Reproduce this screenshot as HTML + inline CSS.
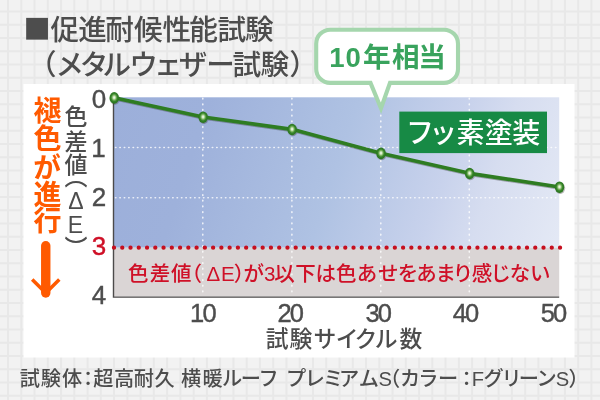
<!DOCTYPE html>
<html lang="ja">
<head>
<meta charset="utf-8">
<title>促進耐候性能試験（メタルウェザー試験）</title>
<style>
html,body{margin:0;padding:0;background:#f2f2f2;}
body{width:600px;height:400px;overflow:hidden;position:relative;}
svg{position:absolute;left:0;top:0;display:block;will-change:transform;}
text{font-family:"Liberation Sans", "Noto Sans CJK JP", sans-serif;}
</style>
</head>
<body>
<svg width="600" height="400" viewBox="0 0 600 400">
<defs>
<linearGradient id="blue" gradientUnits="userSpaceOnUse" x1="112" y1="97" x2="559" y2="247">
<stop offset="0" stop-color="#9cafda"/>
<stop offset="0.2" stop-color="#9eb1db"/>
<stop offset="0.5" stop-color="#afc2e3"/>
<stop offset="0.72" stop-color="#c8d2ec"/>
<stop offset="0.82" stop-color="#d6ddf0"/>
<stop offset="1" stop-color="#e4e9f5"/>
</linearGradient>
<radialGradient id="mk" cx="0.5" cy="0.47" r="0.5">
<stop offset="0" stop-color="#f6fbf2"/>
<stop offset="0.2" stop-color="#d4e9c6"/>
<stop offset="0.45" stop-color="#76b25a"/>
<stop offset="0.68" stop-color="#35832a"/>
<stop offset="1" stop-color="#2a741e"/>
</radialGradient>
<filter id="sh" x="-0.05" y="-0.2" width="1.1" height="1.4">
<feDropShadow dx="0.7" dy="1" stdDeviation="0.7" flood-color="#333333" flood-opacity="0.4"/>
</filter>
</defs>

<rect x="0" y="0" width="600" height="400" fill="#f2f2f2"/>
<path d="M8.00 0V400M21.26 0V400M34.52 0V400M47.78 0V400M61.04 0V400M74.30 0V400M87.56 0V400M100.82 0V400M114.08 0V400M127.34 0V400M140.60 0V400M153.86 0V400M167.12 0V400M180.38 0V400M193.64 0V400M206.90 0V400M220.16 0V400M233.42 0V400M246.68 0V400M259.94 0V400M273.20 0V400M286.46 0V400M299.72 0V400M312.98 0V400M326.24 0V400M339.50 0V400M352.76 0V400M366.02 0V400M379.28 0V400M392.54 0V400M405.80 0V400M419.06 0V400M432.32 0V400M445.58 0V400M458.84 0V400M472.10 0V400M485.36 0V400M498.62 0V400M511.88 0V400M525.14 0V400M538.40 0V400M551.66 0V400M564.92 0V400M578.18 0V400M591.44 0V400M0 -1.65H600M0 11.60H600M0 24.85H600M0 38.10H600M0 51.35H600M0 64.60H600M0 77.85H600M0 91.10H600M0 104.35H600M0 117.60H600M0 130.85H600M0 144.10H600M0 157.35H600M0 170.60H600M0 183.85H600M0 197.10H600M0 210.35H600M0 223.60H600M0 236.85H600M0 250.10H600M0 263.35H600M0 276.60H600M0 289.85H600M0 303.10H600M0 316.35H600M0 329.60H600M0 342.85H600M0 356.10H600M0 369.35H600M0 382.60H600M0 395.85H600" stroke="#e8e8e8" stroke-width="2" fill="none"/>
<rect x="23.5" y="84" width="551" height="273.5" fill="#ffffff"/>
<rect x="113.5" y="97.3" width="445.70000000000005" height="150.39999999999998" fill="url(#blue)"/>
<rect x="113.5" y="247.7" width="445.70000000000005" height="48.80000000000001" fill="#dad5d5"/>
<line x1="202.8" y1="98.3" x2="202.8" y2="295.5" stroke="#ffffff" stroke-opacity="0.8" stroke-width="1.6" stroke-linecap="round" stroke-dasharray="0.7 4.97"/>
<line x1="291.9" y1="98.3" x2="291.9" y2="295.5" stroke="#ffffff" stroke-opacity="0.8" stroke-width="1.6" stroke-linecap="round" stroke-dasharray="0.7 4.97"/>
<line x1="380.8" y1="98.3" x2="380.8" y2="295.5" stroke="#ffffff" stroke-opacity="0.8" stroke-width="1.6" stroke-linecap="round" stroke-dasharray="0.7 4.97"/>
<line x1="469.3" y1="98.3" x2="469.3" y2="295.5" stroke="#ffffff" stroke-opacity="0.8" stroke-width="1.6" stroke-linecap="round" stroke-dasharray="0.7 4.97"/>
<line x1="115.5" y1="147.5" x2="559.2" y2="147.5" stroke="#ffffff" stroke-opacity="0.8" stroke-width="1.6" stroke-linecap="round" stroke-dasharray="0.4 4"/>
<line x1="115.5" y1="197.8" x2="559.2" y2="197.8" stroke="#ffffff" stroke-opacity="0.8" stroke-width="1.6" stroke-linecap="round" stroke-dasharray="0.4 4"/>
<path d="M113.5 97.3V297.1H559.2" stroke="#4c4a4a" stroke-width="1.4" fill="none"/>
<line x1="114" y1="247.7" x2="561" y2="247.7" stroke="#c60f1f" stroke-width="4.3" stroke-linecap="round" stroke-dasharray="0 8.26"/>
<g filter="url(#sh)">
<polyline points="114.2,97.7 203.1,117.0 292.1,129.3 381.0,153.2 469.6,173.3 559.5,187.0" fill="none" stroke="#2e7c21" stroke-width="3.7" stroke-linejoin="round" stroke-linecap="round"/>
<ellipse cx="114.2" cy="97.9" rx="4.7" ry="5.8" fill="url(#mk)"/>
<ellipse cx="203.1" cy="117.2" rx="4.7" ry="5.8" fill="url(#mk)"/>
<ellipse cx="292.1" cy="129.5" rx="4.7" ry="5.8" fill="url(#mk)"/>
<ellipse cx="381.0" cy="153.39999999999998" rx="4.7" ry="5.8" fill="url(#mk)"/>
<ellipse cx="469.6" cy="173.5" rx="4.7" ry="5.8" fill="url(#mk)"/>
<ellipse cx="559.5" cy="187.2" rx="4.7" ry="5.8" fill="url(#mk)"/>
</g>
<rect x="399.3" y="111.6" width="147.7" height="41.5" fill="#178a45"/>
<text x="420 443.25 470.4 498.75 526.25" y="143.3" font-size="28" fill="#ffffff" font-weight="500" text-anchor="middle">フッ素塗装</text>
<path d="M330.2 29.7H444A14 14 0 0 1 458 43.7V68.9A14 14 0 0 1 444 82.9H390L381 108.2L370.5 82.9H330.2A14 14 0 0 1 316.2 68.9V43.7A14 14 0 0 1 330.2 29.7Z" fill="#ffffff" stroke="#a5d6ad" stroke-width="4.1" stroke-linejoin="miter" stroke-miterlimit="10"/>
<text x="337 353.3 376.7 405.9 432.1" y="66.5" font-size="27.6" fill="#39a35d" font-weight="700" text-anchor="middle">10年相当</text>
<text x="36.9" y="42.4" font-size="45" fill="#4d4d4d" font-weight="400" text-anchor="middle">■</text>
<text x="64.7 92.6 119.5 148.3 176.8 203.5 231.9 259.4" y="40.4" font-size="28.6" fill="#4d4d4d" font-weight="500" text-anchor="middle">促進耐候性能試験</text>
<text x="42.3 69.7 94.1 116.8 143.5 168.4 193 220.6 246.9 274.7 303.6" y="74.5" font-size="28.6" fill="#4d4d4d" font-weight="500" text-anchor="middle">（メタルウェザー試験）</text>
<text x="99" y="107.7" font-size="26" fill="#4d4d4d" font-weight="400" text-anchor="middle" stroke="#4d4d4d" stroke-width="0.4">0</text>
<text x="98.5" y="157" font-size="26" fill="#4d4d4d" font-weight="400" text-anchor="middle" stroke="#4d4d4d" stroke-width="0.4">1</text>
<text x="99" y="205.6" font-size="26" fill="#4d4d4d" font-weight="400" text-anchor="middle" stroke="#4d4d4d" stroke-width="0.4">2</text>
<text x="99" y="254.9" font-size="26" fill="#cf1027" font-weight="400" text-anchor="middle" stroke="#cf1027" stroke-width="0.4">3</text>
<text x="99" y="304.4" font-size="26" fill="#4d4d4d" font-weight="400" text-anchor="middle" stroke="#4d4d4d" stroke-width="0.4">4</text>
<text x="197 209.7" y="321.6" font-size="25.5" fill="#4d4d4d" font-weight="400" text-anchor="middle" stroke="#4d4d4d" stroke-width="0.4">10</text>
<text x="284.7 296.9" y="321.6" font-size="25.5" fill="#4d4d4d" font-weight="400" text-anchor="middle" stroke="#4d4d4d" stroke-width="0.4">20</text>
<text x="372.6 384.8" y="321.6" font-size="25.5" fill="#4d4d4d" font-weight="400" text-anchor="middle" stroke="#4d4d4d" stroke-width="0.4">30</text>
<text x="459.8 472" y="321.6" font-size="25.5" fill="#4d4d4d" font-weight="400" text-anchor="middle" stroke="#4d4d4d" stroke-width="0.4">40</text>
<text x="547.8 560" y="321.6" font-size="25.5" fill="#4d4d4d" font-weight="400" text-anchor="middle" stroke="#4d4d4d" stroke-width="0.4">50</text>
<text x="277.1 300.8 325 347.25 365.8 386.25 410.8" y="346.8" font-size="22.8" fill="#4d4d4d" font-weight="500" text-anchor="middle">試験サイクル数</text>
<text x="138.25 160 181.25 191.8 213.25 227.8 244 253.7 269.6 284.5 305.4 325.75 346.2 367 388.3 407.9 426.6 445.75 462.9 482.1 500.7 519.9 540.3" y="281.3" font-size="20.5" fill="#cf1027" font-weight="500" text-anchor="middle">色差値（ΔE）が3以下は色あせをあまり感じない</text>
<text x="29.9 50.75 72 88.2 103.25 124.2 143.8 164.6 178 191.2 212.5 232.1 250.8 268.7 282 296 314.8 333 349.1 368.75 385.2 390.2 410 428.25 448 466.7 478 493.7 511.7 528.75 546.5 562.5 578.5" y="385.5" font-size="20.2" fill="#4d4d4d" font-weight="500" text-anchor="middle">試験体：超高耐久 横暖ルーフ プレミアムS（カラー：FグリーンS）</text>
<text x="45 45 44.5 45 45" y="96.3 124.8 153 180.2 206.7" font-size="28" fill="#ff5a00" font-weight="700" style="writing-mode:vertical-rl;text-orientation:upright">褪色が進行</text>
<text x="74 74 74 74 76 75.5 74" y="104.9 129.5 152.8 165 187.8 211.7 235.3" font-size="23" fill="#4d4d4d" font-weight="500" style="writing-mode:vertical-rl;text-orientation:upright">色差値（ΔE）</text>
<path d="M45.75 245.8V293" fill="none" stroke="#ff5a00" stroke-width="9.4" stroke-linecap="round"/>
<path d="M32.2 279.5L45.75 293.05L59.3 279.5" fill="none" stroke="#ff5a00" stroke-width="3.5"/>
</svg>
</body>
</html>
